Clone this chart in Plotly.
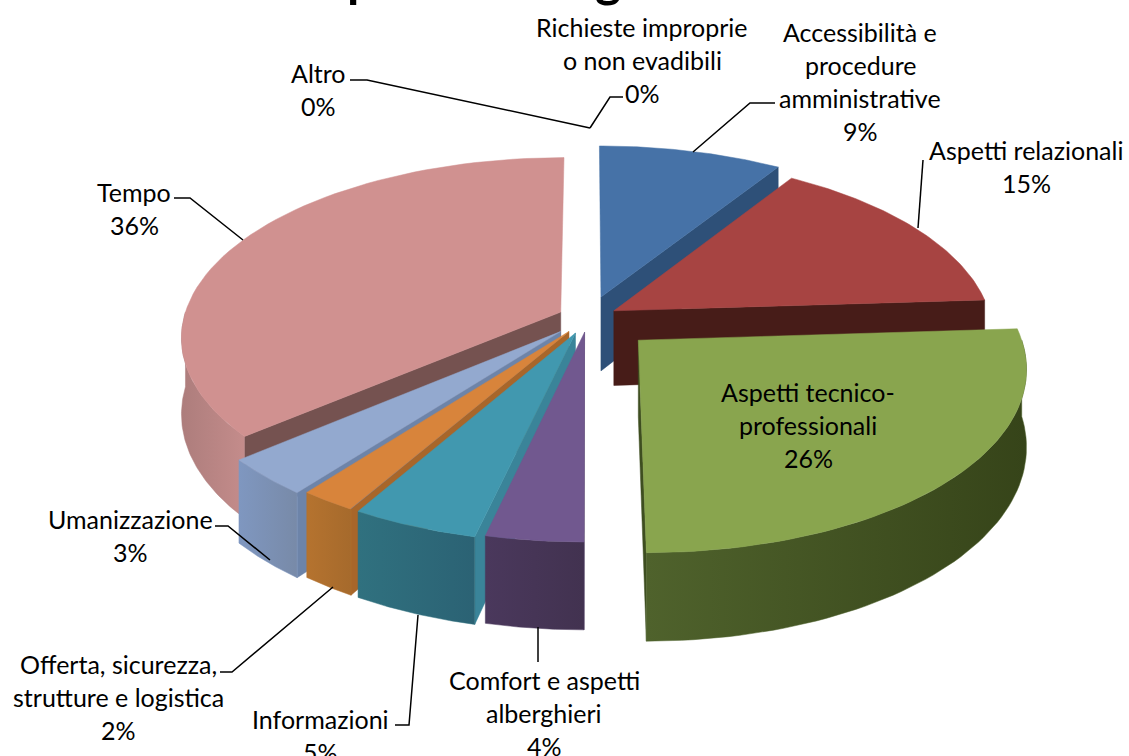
"""Exploded 3D-look pie of complaint categories, drawn with filled scatter traces."""
import numpy as np
import plotly.graph_objects as go

CATEGORIES = [
    "Accessibilità e procedure amministrative", "Aspetti relazionali",
    "Aspetti tecnico-professionali", "Comfort e aspetti alberghieri",
    "Informazioni", "Offerta, sicurezza, strutture e logistica",
    "Umanizzazione", "Tempo", "Richieste improprie o non evadibili", "Altro",
]
# the labels show them rounded
VALUES = [9, 15, 26, 3.6, 4.7, 2.1, 3.4, 36.2, 0, 0]
PULL = [0.125, 0.08, 0.18, 0.08, 0.09, 0.09, 0.105, 0.08, 0, 0]
TOP_COLORS = ["#4672A7", "#A74442", "#89A54E", "#71588F", "#4198AF", "#D8843B", "#93A9CF", "#D09190"]
FACE_COLORS = ["#2E5078", "#471C18", "#3E4E20", "#483759", "#3A8499", "#A8662A", "#6D84A9", "#755250"]
WALL_LEFT = ["#2E5078", "#471C18", "#4F622C", "#4A385C", "#30717F", "#B5732F", "#7F97C0", "#AD7D7C"]
WALL_RIGHT = ["#2E5078", "#471C18", "#364419", "#423250", "#2B6274", "#A66A2C", "#788AA8", "#C48C8B"]

# back to front
DRAW_ORDER = [0, 7, 1, 6, 5, 4, 3, 2]

LABELS = [
    (["Altro", "0%"], 318, 73),
    (["Richieste improprie", "o non evadibili", "0%"], 642, 27),
    (["Accessibilità e", "procedure", "amministrative", "9%"], 860, 32),
    (["Aspetti relazionali", "15%"], 1026, 150),
    (["Aspetti tecnico-", "professionali", "26%"], 808, 392),
    (["Tempo", "36%"], 134, 192),
    (["Umanizzazione", "3%"], 130, 519),
    (["Offerta, sicurezza,", "strutture e logistica", "2%"], 118, 664),
    (["Informazioni", "5%"], 320, 719),
    (["Comfort e aspetti", "alberghieri", "4%"], 544, 680),
]
LEADERS = [
    [(350, 80), (367, 80), (590, 128)],
    [(623, 97), (610, 97), (590, 128)],
    [(775, 103), (750, 103), (693, 152)],
    [(923, 160), (918, 228)],
    [(174, 198), (190, 198), (243, 240)],
    [(215, 526), (228, 526), (270, 560)],
    [(220, 672), (232, 672), (333, 587)],
    [(395, 725), (409, 725), (418, 615)],
    [(538, 662), (538, 627)],
]

CX, CY = 588, 318
RX, RY = 377, 177
PERSP = 0.136
DEPTH = 75
FONT = "Lato, Carlito, Calibri, sans-serif"
LINE_H = 33
WIDTH, HEIGHT = 1129, 756


def project(u, v, z=0.0):
    s = 1 / (1 - PERSP * v)
    return CX + RX * u * s, CY + (RY * v + DEPTH * z) * s


def slice_points(start, end, pull, n=60):
    mid = np.radians((start + end) / 2)
    ou, ov = pull * np.sin(mid), -pull * np.cos(mid)
    ang = np.radians(np.linspace(start, end, n))
    return ou, ov, ou + np.sin(ang), ov - np.cos(ang)


def poly(fig, xs, ys, color, gradient=None):
    kw = {"fillcolor": color}
    if gradient:
        kw = {"fillgradient": dict(type="horizontal", colorscale=[[0, gradient[0]], [1, gradient[1]]])}
    fig.add_trace(go.Scatter(
        x=list(xs), y=list(ys), mode="lines", fill="toself",
        line=dict(width=0.5, color=color), hoverinfo="skip", showlegend=False, **kw,
    ))


fig = go.Figure()
edges = np.cumsum([0] + VALUES) * 3.6

for i in DRAW_ORDER:
    start, end = edges[i], edges[i + 1]
    ou, ov, us, vs = slice_points(start, end, PULL[i])

    # radial cut face turned towards the viewer
    edge = None
    if end <= 180:
        edge = (us[-1], vs[-1])
    elif start < 270:
        edge = (us[0], vs[0])
    if edge:
        x0, y0 = project(ou, ov)
        x1, y1 = project(*edge)
        x2, y2 = project(*edge, 1)
        x3, y3 = project(ou, ov, 1)
        poly(fig, [x0, x1, x2, x3, x0], [y0, y1, y2, y3, y0], FACE_COLORS[i])

    # outer rim, only the front half shows
    lo, hi = max(start, 90), min(end, 270)
    if lo < hi:
        ang = np.radians(np.linspace(lo, hi, 60))
        mid = np.radians((start + end) / 2)
        wu = PULL[i] * np.sin(mid) + np.sin(ang)
        wv = -PULL[i] * np.cos(mid) - np.cos(ang)
        tx, ty = project(wu, wv)
        bx, by = project(wu, wv, 1)
        poly(fig, np.r_[tx, bx[::-1], tx[0]], np.r_[ty, by[::-1], ty[0]], WALL_LEFT[i],
             gradient=(WALL_LEFT[i], WALL_RIGHT[i]))

    # top surface
    ax, ay = project(ou, ov)
    px_, py_ = project(us, vs)
    poly(fig, np.r_[ax, px_, ax], np.r_[ay, py_, ay], TOP_COLORS[i])

for pts in LEADERS:
    fig.add_trace(go.Scatter(
        x=[p[0] for p in pts], y=[p[1] for p in pts], mode="lines",
        line=dict(width=1.5, color="#000000"), hoverinfo="skip", showlegend=False,
    ))

annotations = []
for lines, x, y in LABELS:
    for k, line in enumerate(lines):
        annotations.append(dict(
            x=x, y=y + k * LINE_H, text=line, showarrow=False, xanchor="center", yanchor="middle",
            font=dict(family=FONT, size=25, color="#000000"),
        ))

# the chart title is cut off by the top of the picture, only two descenders remain
for ch, x in [("p", 361), ("g", 608)]:
    annotations.append(dict(
        xref="paper", yref="paper", x=x / WIDTH, y=1 + 22 / HEIGHT, text=f"<b>{ch}</b>",
        showarrow=False, xanchor="center", yanchor="middle",
        font=dict(family=FONT, size=50, color="#000000"),
    ))

fig.update_layout(
    width=WIDTH, height=HEIGHT,
    margin=dict(l=0, r=0, t=0, b=0),
    paper_bgcolor="#FFFFFF", plot_bgcolor="#FFFFFF",
    xaxis=dict(range=[0, WIDTH], visible=False, fixedrange=True),
    yaxis=dict(range=[HEIGHT, 0], visible=False, fixedrange=True),
    annotations=annotations,
)

fig.write_html("out.html", config={"displayModeBar": False}, post_script="document.body.style.margin='0';")
